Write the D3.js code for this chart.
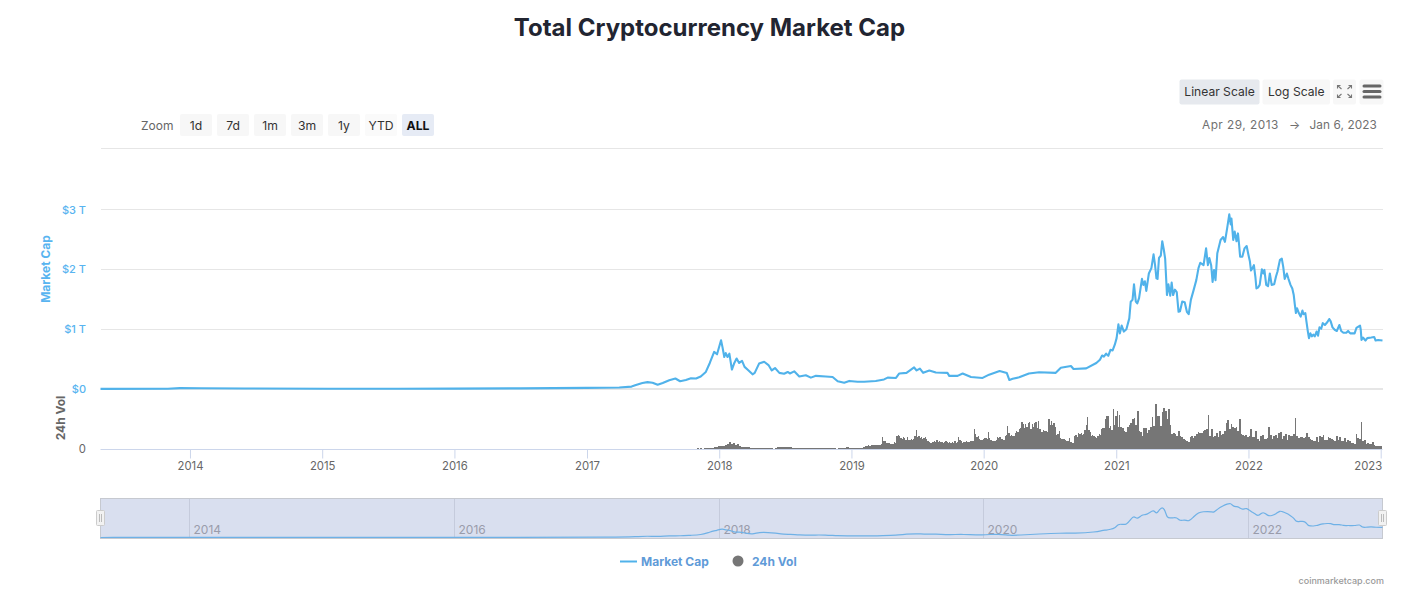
<!DOCTYPE html>
<html><head><meta charset="utf-8">
<script src="https://cdnjs.cloudflare.com/ajax/libs/d3/7.8.5/d3.min.js"></script>
<style>html,body{margin:0;padding:0;background:#fff}svg{display:block;font-family:Inter,"Noto Sans",sans-serif}</style>
</head><body><svg id="c" width="1413" height="599"></svg>
<script>
const title = "Total Cryptocurrency Market Cap";
const yearTicks = ["2014","2015","2016","2017","2018","2019","2020","2021","2022","2023"];
const navYears = ["2014","2016","2018","2020","2022"];
const capTicks = [0,1,2,3];
const zoomButtons = ["1d","7d","1m","3m","1y","YTD","ALL"];

// market cap, $ trillions
const capEarly = [["2013-04-29",.002],["2013-11-01",.004],["2013-12-04",.015],["2014-02-01",.012],["2014-06-01",.009],["2015-01-15",.005],["2015-08-01",.004],["2016-01-01",.007],["2016-07-01",.011],["2017-01-01",.018],["2017-03-31",.025],["2017-05-04",.04],["2017-05-16",.065],["2017-06-03",.10],["2017-06-17",.115],["2017-07-01",.105],["2017-07-15",.07],["2017-07-29",.10],["2017-08-16",.145],["2017-09-02",.175],["2017-09-15",.13],["2017-10-01",.15],["2017-10-15",.18],["2017-10-29",.175],["2017-11-11",.21],["2017-11-25",.285]];
const capBoom2018 = [["2017-12-06",.435],["2017-12-18",.62],["2017-12-26",.58],["2018-01-06",.815],["2018-01-10",.70],["2018-01-15",.535],["2018-01-19",.60],["2018-01-24",.535],["2018-01-29",.59],["2018-02-05",.325],["2018-02-11",.425],["2018-02-18",.51],["2018-02-25",.435],["2018-03-05",.47],["2018-03-12",.37],["2018-03-20",.325],["2018-04-03",.245],["2018-04-09",.27],["2018-04-21",.425],["2018-05-05",.455],["2018-05-17",.40],["2018-05-26",.31],["2018-06-04",.35],["2018-06-16",.27],["2018-06-29",.255],["2018-07-09",.285],["2018-07-15",.26],["2018-07-27",.295],["2018-08-10",.21],["2018-08-28",.23],["2018-09-11",.19],["2018-09-25",.22],["2018-10-22",.21],["2018-11-10",.20],["2018-11-24",.13],["2018-12-12",.105],["2018-12-26",.135]];
const capQuiet = [["2019-01-18",.12],["2019-02-05",.12],["2019-03-09",.135],["2019-04-01",.16],["2019-04-11",.19],["2019-05-04",.185],["2019-05-13",.26],["2019-06-02",.27],["2019-06-23",.36],["2019-06-30",.31],["2019-07-09",.34],["2019-07-18",.27],["2019-08-04",.31],["2019-08-22",.275],["2019-09-23",.27],["2019-09-28",.22],["2019-10-21",.22],["2019-11-04",.26],["2019-11-27",.20],["2019-12-29",.185],["2020-01-16",.24],["2020-02-14",.30],["2020-03-05",.267],["2020-03-12",.15],["2020-03-21",.17],["2020-04-08",.195],["2020-05-05",.26],["2020-06-02",.28],["2020-07-18",.27],["2020-08-01",.355],["2020-08-29",.385],["2020-09-05",.335],["2020-10-10",.345],["2020-11-07",.435]];
const capBull = [["2020-11-17",.49],["2020-11-23",.56],["2020-11-28",.54],["2020-12-04",.59],["2020-12-10",.555],["2020-12-16",.655],["2020-12-22",.645],["2020-12-28",.74],["2021-01-02",.85],["2021-01-07",1.08],["2021-01-11",.93],["2021-01-16",1.06],["2021-01-22",.96],["2021-01-29",1.0],["2021-02-06",1.18],["2021-02-10",1.46],["2021-02-15",1.49],["2021-02-19",1.75],["2021-02-24",1.46],["2021-02-28",1.43],["2021-03-05",1.52],["2021-03-13",1.84],["2021-03-17",1.74],["2021-03-21",1.80],["2021-03-25",1.64],["2021-04-01",1.93],["2021-04-08",2.02],["2021-04-14",2.25],["2021-04-18",2.08],["2021-04-22",1.85],["2021-04-25",1.84],["2021-04-29",2.19],["2021-05-04",2.23],["2021-05-08",2.47],["2021-05-12",2.34],["2021-05-16",2.18],["2021-05-19",1.82],["2021-05-21",1.57],["2021-05-25",1.75],["2021-05-30",1.56],["2021-06-03",1.78],["2021-06-07",1.57],["2021-06-12",1.66],["2021-06-17",1.62],["2021-06-22",1.29],["2021-06-26",1.30],["2021-07-02",1.46],["2021-07-09",1.45],["2021-07-15",1.29],["2021-07-20",1.25],["2021-07-26",1.49],["2021-08-02",1.64],["2021-08-10",1.82],["2021-08-16",2.02],["2021-08-21",2.11],["2021-08-30",2.07],["2021-09-06",2.35],["2021-09-11",2.07],["2021-09-15",2.19],["2021-09-20",2.07],["2021-09-24",1.79],["2021-09-28",1.99],["2021-10-02",1.82],["2021-10-07",2.27],["2021-10-16",2.49],["2021-10-23",2.54],["2021-10-28",2.46],["2021-11-03",2.68],["2021-11-09",2.92],["2021-11-13",2.75],["2021-11-15",2.85],["2021-11-20",2.49],["2021-11-24",2.63],["2021-11-29",2.47],["2021-12-03",2.60],["2021-12-06",2.42],["2021-12-09",2.21],["2021-12-15",2.21],["2021-12-21",2.35],["2021-12-27",2.39]];
const capBear = [["2022-01-01",2.24],["2022-01-05",2.13],["2022-01-08",1.98],["2022-01-12",2.02],["2022-01-16",2.07],["2022-01-20",1.88],["2022-01-23",1.68],["2022-01-28",1.70],["2022-02-01",1.74],["2022-02-07",2.0],["2022-02-11",1.93],["2022-02-14",1.99],["2022-02-19",1.74],["2022-02-24",1.72],["2022-03-01",1.93],["2022-03-06",1.74],["2022-03-13",1.75],["2022-03-18",1.88],["2022-03-22",1.96],["2022-03-29",2.16],["2022-04-03",2.18],["2022-04-07",2.04],["2022-04-11",1.84],["2022-04-17",1.93],["2022-04-21",1.85],["2022-04-27",1.74],["2022-05-02",1.68],["2022-05-06",1.57],["2022-05-09",1.41],["2022-05-12",1.27],["2022-05-15",1.35],["2022-05-20",1.27],["2022-05-25",1.21],["2022-05-30",1.31],["2022-06-02",1.25],["2022-06-07",1.27],["2022-06-10",1.13],["2022-06-14",.96],["2022-06-17",.85],["2022-06-21",.93],["2022-06-25",.88],["2022-06-29",.91],["2022-07-03",.88],["2022-07-08",.96],["2022-07-12",.89],["2022-07-16",1.03],["2022-07-21",1.01],["2022-07-25",1.10],["2022-07-31",1.07],["2022-08-07",1.12],["2022-08-12",1.17],["2022-08-16",1.13],["2022-08-21",1.03],["2022-08-27",.99],["2022-09-02",.97],["2022-09-09",1.07],["2022-09-14",.97],["2022-09-20",.94],["2022-09-28",.94],["2022-10-03",.97],["2022-10-09",.93],["2022-10-21",.93],["2022-10-26",1.02],["2022-11-05",1.06],["2022-11-07",.99],["2022-11-09",.82],["2022-11-13",.86],["2022-11-20",.81],["2022-11-25",.85],["2022-12-06",.86],["2022-12-14",.87],["2022-12-18",.81],["2022-12-25",.82],["2023-01-06",.81]];

// 24h volume, $ billions, read bar by bar
const volDates2018 = ["2017-11-01","2018-12-01"];
const vol2018 = [8,4,8,4,8,8,10,10,15,20,20,30,30,35,35,45,50,75,55,60,45,50,35,25,22,22,20,18,15,15,15,15,12,15,12,12,10,10,8,8,5,15,22,18,22,25,22,25,22,18,15,12,8,8,8,8,6,6,8,6,6,8,12,6,6,6,8,6,6,8,12,6,6,5,6];
const volDates2020 = ["2018-12-01","2021-01-14"];
const vol2020 = [10,10,10,10,15,20,20,10,10,10,15,10,10,15,10,15,10,15,20,20,30,30,40,30,40,40,40,40,40,40,40,40,50,120,80,80,60,60,60,55,55,55,70,60,130,140,130,110,100,120,110,90,120,90,90,100,90,100,130,190,120,130,110,120,100,110,120,100,80,70,60,60,70,80,70,90,70,80,70,70,60,70,80,70,60,70,60,70,60,80,60,70,120,90,80,60,70,70,80,70,70,80,80,80,200,150,120,130,100,90,90,100,110,110,100,170,110,90,80,80,80,90,120,110,120,100,100,90,130,140,230,160,130,140,130,130,160,180,170,200,210,270,250,210,250,220,260,270,200,250,220,260,270,210,280,200,170,170,190,180,180,170,300,240,280,240,260,220,140,150,180,110,100,100,100,90,80,80,110,70,60,60,130,140,120,160,150,160,140,150,190,240,320,190,170,130,140,130,120,110,130,150,140,200,210,210,300,330,330,210,230,190,400,240,330,380,220,340];
const volDates2022 = ["2021-01-14","2023-01-06"];
const vol2022 = [220,210,180,170,220,240,260,300,310,240,380,180,170,130,210,210,160,190,220,320,230,450,330,330,230,370,410,380,300,400,240,150,160,150,130,180,130,120,100,90,80,70,120,130,110,130,150,170,160,160,180,190,200,340,130,200,120,130,160,120,180,140,150,180,260,290,200,250,220,210,220,180,300,150,140,130,140,120,130,200,120,120,180,100,80,130,140,100,100,110,220,140,100,130,140,110,160,170,100,130,150,90,140,130,130,150,310,130,110,120,120,110,120,160,120,100,90,80,80,120,70,130,120,140,90,90,120,110,100,90,80,130,90,120,80,80,110,70,90,80,60,60,50,150,110,100,270,80,90,50,60,50,50,70,40,30,30,30,30];

const svg = d3.select("#c");
const parse = d3.utcParse("%Y-%m-%d");
const capData = [...capEarly, ...capBoom2018, ...capQuiet, ...capBull, ...capBear].map(d => ({date: parse(d[0]), v: d[1]}));

function volSeg(range, vals){
  const s = d3.scaleLinear().domain([0, vals.length]).range(range.map(d => +parse(d)));
  return vals.map((v,i) => ({d0: new Date(s(i)), d1: new Date(s(i+1)), v}));
}
const volData = [...volSeg(volDates2018, vol2018), ...volSeg(volDates2020, vol2020), ...volSeg(volDates2022, vol2022)];

const left = 100.5, right = 1382.5;
const x = d3.scaleUtc().domain([parse("2013-04-29"), parse("2023-01-06")]).range([left, right]);
const yCap = d3.scaleLinear().domain([0,3]).range([389,209.5]);
const yVol = d3.scaleLinear().domain([0,600]).range([449,389]);
const yNav = d3.scaleLinear().domain([0,2.92]).range([537.5,501]);

// title
svg.append("text").attr("x",709.5).attr("y",36).attr("text-anchor","middle")
  .attr("font-size",24).attr("font-weight",700).attr("fill","#222531").text(title);

// buttons
function button(x0,y0,w,h,fill,label,o={}){
  const g = svg.append("g");
  g.append("rect").attr("x",x0).attr("y",y0).attr("width",w).attr("height",h).attr("rx",2).attr("fill",fill);
  if(label) g.append("text").attr("x",x0+w/2).attr("y",y0+h/2+(o.dy||4)).attr("text-anchor","middle")
    .attr("font-size",o.size||12.2).attr("font-weight",o.weight||400).attr("fill",o.color||"#333").text(label);
}
svg.append("text").attr("x",141).attr("y",130).attr("font-size",12).attr("fill","#666").text("Zoom");
zoomButtons.forEach((b,i)=>{
  const last = b==="ALL";
  button(180+i*37,114,32,22, last?"#e6ebf5":(b==="YTD"?"#fafafa":"#f7f7f7"), b, {dy:5,weight:last?700:400,color:last?"#111":"#333"});
});
button(1179.5,79.5,80,25,"#e6e9ee","Linear Scale",{color:"#333",size:12.1});
button(1262.5,79.5,67.5,25,"#f7f7f7","Log Scale",{color:"#333",size:12.1});
button(1333,79.5,23,25,"#f7f7f7",null);
button(1359.5,79.5,24,25,"#f7f7f7",null);
svg.append("path").attr("fill","none").attr("stroke","#777").attr("stroke-width",1.1)
  .attr("d",d3.range(4).map(i=>{
    const sx = i%2?1:-1, sy = i<2?-1:1, cx=1344.5+sx*7, cy=91.5+sy*6;
    return `M${cx-sx*4},${cy-sy*3.5}L${cx},${cy}M${cx-sx*3},${cy}H${cx}V${cy-sy*3}`;
  }).join(""));
[86,91.5,97].forEach(y=>svg.append("line").attr("x1",1364).attr("x2",1380).attr("y1",y).attr("y2",y)
  .attr("stroke","#666").attr("stroke-width",3).attr("stroke-linecap","round"));
[[1202,"start","Apr 29, 2013",".5"],[1295,"middle","\u2192",".5"],[1377,"end","Jan 6, 2023",".1"]].forEach(([px,anc,t,sp])=>
  svg.append("text").attr("x",px).attr("y",129).attr("text-anchor",anc).attr("font-size",11.8)
    .attr("letter-spacing",sp).attr("fill","#707070").text(t));
svg.append("line").attr("x1",101).attr("x2",1383).attr("y1",148.5).attr("y2",148.5).attr("stroke","#e6e6e6");

// grid + left axis
const capAxis = d3.axisLeft(yCap).tickValues(capTicks).tickSize(0).tickPadding(0)
  .tickFormat(d=> d===0 ? "$0" : `$${d} T`);
const gCap = svg.append("g").attr("transform","translate(86,0)").call(capAxis);
gCap.select(".domain").remove();
gCap.selectAll("text").attr("font-size",11).attr("font-family","Inter").attr("font-weight",500).attr("fill","#58b4f0");
capTicks.forEach(t=>{
  const gy = t===0 ? 389 : Math.floor(yCap(t))+.5;
  svg.append("line").attr("x1",101).attr("x2",1383).attr("y1",gy).attr("y2",gy)
    .attr("stroke","#e6e6e6").attr("stroke-width",t===0?2:1);
});

const volAxis = d3.axisLeft(yVol).tickValues([0]).tickSize(0).tickPadding(0);
const gVol = svg.append("g").attr("transform","translate(86,0)").call(volAxis);
gVol.select(".domain").remove();
gVol.selectAll("text").attr("font-size",11.3).attr("font-family","Inter").attr("fill","#666");

svg.append("text").attr("transform","translate(50,269) rotate(-90)").attr("text-anchor","middle")
  .attr("font-size",12).attr("font-weight",700).attr("fill","#58b4f0").text("Market Cap");
svg.append("text").attr("transform","translate(65,418) rotate(-90)").attr("text-anchor","middle")
  .attr("font-size",12).attr("font-weight",700).attr("fill","#666").text("24h Vol");

// volume bars
svg.append("g").attr("fill","#767676").attr("shape-rendering","crispEdges").selectAll("rect").data(volData).join("rect")
  .attr("x",d=>Math.floor(x(d.d0))).attr("width",d=>Math.max(1,Math.floor(x(d.d1))-Math.floor(x(d.d0))))
  .attr("y",d=>yVol(d.v)).attr("height",d=>yVol(0)-yVol(d.v));

// bottom axis
const parseY = d3.utcParse("%Y");
const xAxis = d3.axisBottom(x).tickValues(yearTicks.map(parseY)).tickSize(9).tickPadding(3).tickFormat(d3.utcFormat("%Y"));
const gx = svg.append("g").attr("transform","translate(0,449.5)").call(xAxis);
gx.select(".domain").attr("stroke","#ccd6eb").attr("d",`M${left},0H${right}`);
gx.selectAll(".tick line").attr("stroke","#ccd6eb");
gx.selectAll("text").attr("font-size",11.3).attr("font-family","Inter").attr("fill","#666");
gx.selectAll(".tick").filter(d=>d.getUTCFullYear()===2023).select("text").attr("text-anchor","end").attr("x",1);

// market cap line
const line = d3.line().x(d=>x(d.date)).y(d=>yCap(d.v));
svg.append("path").datum(capData).attr("fill","none").attr("stroke","#50b2ea").attr("stroke-width",2.1)
  .attr("stroke-linejoin","round").attr("d",line);

// navigator
svg.append("rect").attr("x",100.5).attr("y",498.5).attr("width",1282).attr("height",40)
  .attr("fill","#d9dfef").attr("stroke","#c6c9d0");
const gNav = svg.append("g");
navYears.forEach(yr=>{
  const px = Math.floor(x(parseY(yr)))+.5;
  gNav.append("line").attr("x1",px).attr("x2",px).attr("y1",499).attr("y2",538).attr("stroke","#c5cbdc");
  gNav.append("text").attr("x",px+4).attr("y",534).attr("font-size",12).attr("fill","#999cab").text(yr);
});
const navLine = d3.line().curve(d3.curveBasis).x(d=>x(d.date)).y(d=>yNav(d.v));
svg.append("path").datum(capData.filter((d,i)=>i%2===0||i===capData.length-1)).attr("fill","none").attr("stroke","#6fb1e6").attr("stroke-width",1.2).attr("d",navLine);
[100.5,1382.5].forEach(cx=>{
  svg.append("rect").attr("x",cx-4).attr("y",510.5).attr("width",8).attr("height",15).attr("rx",1)
    .attr("fill","#f2f2f2").attr("stroke","#ccc");
  [-1,1].forEach(o=>svg.append("line").attr("x1",cx+o).attr("x2",cx+o).attr("y1",514).attr("y2",522).attr("stroke","#bbb"));
});

// legend
svg.append("line").attr("x1",620).attr("x2",637).attr("y1",561.5).attr("y2",561.5).attr("stroke","#50b2ea").attr("stroke-width",2);
svg.append("text").attr("x",641).attr("y",566).attr("font-size",12).attr("font-weight",700).attr("fill","#5f9bd8").text("Market Cap");
svg.append("circle").attr("cx",738).attr("cy",561).attr("r",5.5).attr("fill","#767676");
svg.append("text").attr("x",752).attr("y",566).attr("font-size",12).attr("font-weight",700).attr("fill","#5f9bd8").text("24h Vol");
svg.append("text").attr("x",1384).attr("y",584).attr("text-anchor","end").attr("font-size",9).attr("font-weight",500).attr("fill","#999").text("coinmarketcap.com");
</script></body></html>
